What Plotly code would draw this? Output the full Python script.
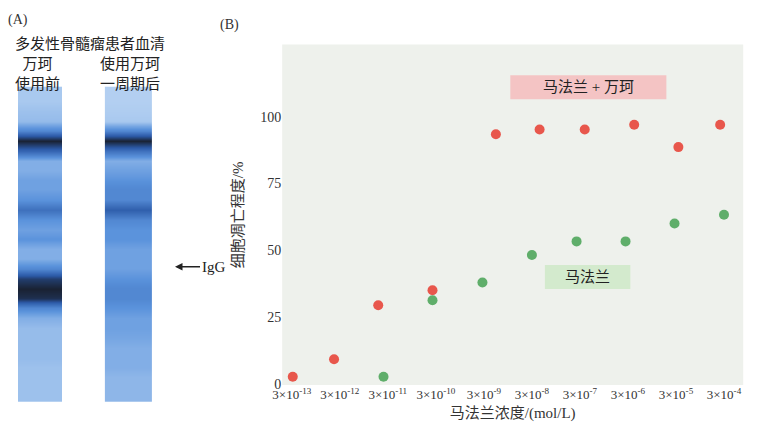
import plotly.graph_objects as go

# panel B data: x = position on the concentration axis (0 -> 3e-13 ... 9 -> 3e-4)
tick_pos = list(range(10))
tick_text = ["3×10<sup>-%d</sup>" % e for e in [13, 12, 11, 10, 9, 8, 7, 6, 5, 4]]
combo_x = [0.02, 0.88, 1.8, 2.93, 4.25, 5.16, 6.1, 7.13, 8.05, 8.92]
combo_y = [2.6, 9.2, 29.4, 35, 93.4, 95.2, 95.2, 97, 88.6, 97]
mel_x = [1.91, 2.93, 3.97, 5.0, 5.93, 6.95, 7.97, 9.0]
mel_y = [2.6, 31.3, 37.9, 48.2, 53.3, 53.3, 60, 63.3]

# panel A gel: lane intensity read every 10 px from y=85 to y=395
gel_edges = list(range(80, 401, 10))
lane1 = [0.35, 0.35, 0.38, 0.4, 0.6, 1.0, 0.75, 0.45, 0.45, 0.5, 0.5, 0.55, 0.7,
         0.55, 0.5, 0.55, 0.45, 0.45, 0.6, 0.9, 1.0, 0.95, 0.6, 0.45, 0.4, 0.4,
         0.4, 0.4, 0.38, 0.38, 0.38, 0.38]
lane2 = [0.3, 0.3, 0.32, 0.35, 0.6, 1.0, 0.7, 0.45, 0.5, 0.55, 0.6, 0.6, 0.78,
         0.6, 0.55, 0.55, 0.5, 0.5, 0.5, 0.55, 0.6, 0.6, 0.55, 0.5, 0.5, 0.48,
         0.45, 0.45, 0.45, 0.42, 0.42, 0.42]

serif = "Liberation Serif, Noto Sans CJK SC"
gel_scale = [[0, "#eef4fb"], [0.35, "#a9c9ef"], [0.55, "#5b93dc"],
             [0.8, "#2c5aa8"], [1, "#1a2233"]]

fig = go.Figure()
for xl, xr, lane in [(13, 62, lane1), (105, 153, lane2)]:
    fig.add_trace(go.Heatmap(
        x=[xl, xr], y=gel_edges, z=[[v] for v in lane],
        colorscale=gel_scale, zmin=0, zmax=1, showscale=False,
        zsmooth="best", xaxis="x2", yaxis="y2", hoverinfo="skip",
    ))

fig.add_trace(go.Scatter(x=combo_x, y=combo_y, mode="markers", name="马法兰 + 万珂",
                         marker=dict(color="#e8574c", size=10, symbol="circle"),
                         showlegend=False))
fig.add_trace(go.Scatter(x=mel_x, y=mel_y, mode="markers", name="马法兰",
                         marker=dict(color="#5fae6a", size=10),
                         showlegend=False))

fig.update_layout(
    width=767, height=437,
    margin=dict(l=0, r=0, t=0, b=0),
    paper_bgcolor="white",
    plot_bgcolor="white",
    font=dict(family=serif, color="#333", size=13),
    xaxis=dict(domain=[0.349, 0.958], range=[-0.2, 9.4], tickvals=tick_pos,
               ticktext=tick_text, showgrid=False, zeroline=False, ticks="",
               tickfont=dict(size=13),
               title=dict(text="马法兰浓度/(mol/L)", font=dict(size=15), standoff=6)),
    yaxis=dict(domain=[0.123, 0.915], range=[-0.5, 127], tickvals=[0, 25, 50, 75, 100],
               showgrid=False, zeroline=False, ticks="", tickfont=dict(size=14),
               title=dict(text="细胞凋亡程度/%", font=dict(size=15), standoff=12)),
    xaxis2=dict(domain=[0, 0.3], range=[17, 247], visible=False),
    yaxis2=dict(domain=[0, 1], range=[437, 0], visible=False),
    shapes=[
        dict(type="rect", xref="x domain", yref="y domain", x0=0, x1=1, y0=0, y1=1,
             fillcolor="#eef1ec", line_width=0, layer="below"),
        dict(type="rect", xref="x", yref="y", x0=4.55, x1=7.8, y0=106.5, y1=115.5,
             fillcolor="#f4c4c4", line_width=0, layer="below"),
        dict(type="rect", xref="x", yref="y", x0=5.27, x1=7.05, y0=35.5, y1=44.5,
             fillcolor="#d3eacd", line_width=0, layer="below"),
    ],
    annotations=[
        dict(xref="x", yref="y", x=6.17, y=111, text="马法兰 + 万珂", showarrow=False,
             font=dict(size=15, color="#222")),
        dict(xref="x", yref="y", x=6.16, y=40, text="马法兰", showarrow=False,
             font=dict(size=15, color="#222")),
        dict(xref="paper", yref="paper", x=203 / 767, y=1 - 17 / 437, yanchor="middle",
             text="(B)", showarrow=False, font=dict(size=14)),
        dict(xref="x2", yref="y2", x=17, y=12, text="(A)", showarrow=False,
             font=dict(size=14)),
        dict(xref="x2", yref="y2", x=90, y=37, text="多发性骨髓瘤患者血清", showarrow=False,
             font=dict(size=15, color="#222")),
        dict(xref="x2", yref="y2", x=37, y=67, text="万珂<br>使用前", showarrow=False,
             font=dict(size=15, color="#222")),
        dict(xref="x2", yref="y2", x=130, y=67, text="使用万珂<br>一周期后", showarrow=False,
             font=dict(size=15, color="#222")),
        dict(xref="x2", yref="y2", x=176, y=263, text="IgG", showarrow=True,
             xanchor="left", ax=25, ay=0, axref="pixel", arrowhead=2, arrowsize=1,
             arrowwidth=1.5, arrowcolor="#222", font=dict(size=15, color="#222"),
             standoff=0),
    ],
)

fig.write_html("out.html")
